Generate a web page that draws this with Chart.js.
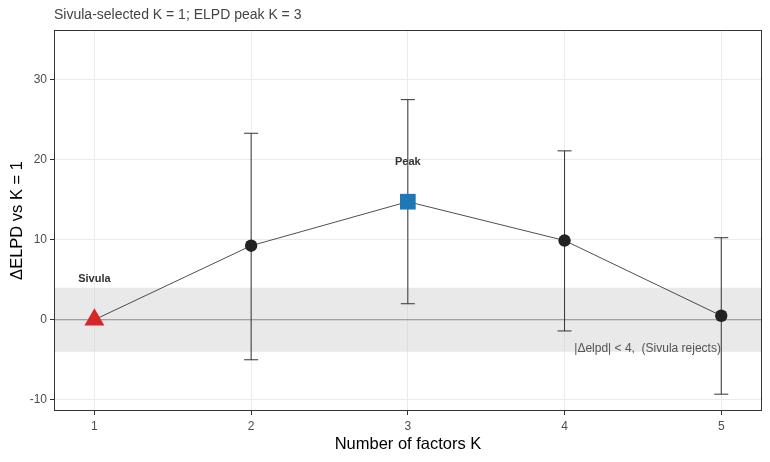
<!DOCTYPE html>
<html>
<head>
<meta charset="utf-8">
<script src="https://cdn.jsdelivr.net/npm/chart.js@4"></script>
<style>
  html, body { margin: 0; padding: 0; background: #fff; overflow: hidden; }
  #wrap { width: 770px; height: 462px; }
</style>
</head>
<body>
<div id="wrap"><canvas id="elpdChart"></canvas></div>
<script>
// values
const kValues = [1, 2, 3, 4, 5];
const elpdDiff = [0, 9.25, 14.75, 9.9, 0.5];
const lowerCI = [0, -5.0, 2.0, -1.4, -9.3];
const upperCI = [0, 23.3, 27.5, 21.1, 10.25];
const xTicks = [1, 2, 3, 4, 5];
const yTicks = [-10, 0, 10, 20, 30];
const bandLimits = [-4, 4];

const FONT = "'Liberation Sans', Arial, sans-serif";

// band, zero line, error bars, labels, panel border
const extras = {
    id: "extras",
    beforeDatasetsDraw(chart) {
        const { ctx, chartArea: a, scales: { x, y } } = chart;
        ctx.save();
        ctx.fillStyle = "rgba(200,200,200,0.4)";
        const yt = y.getPixelForValue(bandLimits[1]);
        const yb = y.getPixelForValue(bandLimits[0]);
        ctx.fillRect(a.left, yt, a.right - a.left, yb - yt);

        ctx.strokeStyle = "#8c8c8c";
        ctx.lineWidth = 1;
        ctx.beginPath();
        ctx.moveTo(a.left, y.getPixelForValue(0));
        ctx.lineTo(a.right, y.getPixelForValue(0));
        ctx.stroke();

        ctx.strokeStyle = "#333";
        for (let i = 0; i < kValues.length; i++) {
            if (lowerCI[i] === upperCI[i]) continue;
            const px = x.getPixelForValue(kValues[i]);
            const p1 = y.getPixelForValue(lowerCI[i]);
            const p2 = y.getPixelForValue(upperCI[i]);
            ctx.beginPath();
            ctx.moveTo(px, p1); ctx.lineTo(px, p2);
            ctx.moveTo(px - 7, p1); ctx.lineTo(px + 7, p1);
            ctx.moveTo(px - 7, p2); ctx.lineTo(px + 7, p2);
            ctx.stroke();
        }
        ctx.restore();
    },
    afterDatasetsDraw(chart) {
        const { ctx, chartArea: a, scales: { x, y } } = chart;
        ctx.save();
        ctx.textAlign = "center";
        ctx.textBaseline = "middle";
        ctx.fillStyle = "#333";
        ctx.font = "bold 11px " + FONT;
        ctx.fillText("Sivula", x.getPixelForValue(1), y.getPixelForValue(5.1));
        ctx.fillText("Peak", x.getPixelForValue(3), y.getPixelForValue(19.7));

        ctx.fillStyle = "#555";
        ctx.font = "12px " + FONT;
        ctx.fillText("|\u0394elpd| < 4,  (Sivula rejects)", x.getPixelForValue(4.53), y.getPixelForValue(-3.6));

        ctx.strokeStyle = "#333";
        ctx.lineWidth = 1;
        ctx.strokeRect(a.left + 0.5, a.top + 0.5, a.right - a.left - 1, a.bottom - a.top - 1);

        ctx.textAlign = "left";
        ctx.fillStyle = "#444";
        ctx.font = "14px " + FONT;
        ctx.fillText("Sivula-selected K = 1; ELPD peak K = 3", a.left, 15);
        ctx.restore();
    }
};

new Chart(document.getElementById("elpdChart"), {
    type: "line",
    data: {
        datasets: [{
            data: kValues.map((k, i) => ({ x: k, y: elpdDiff[i] })),
            borderColor: "#222",
            borderWidth: 0.8,
            pointStyle: ["triangle", "circle", "rect", "circle", "circle"],
            pointRadius: [11.5, 6.2, 11.1, 6.2, 6.2],
            pointBackgroundColor: ["#d62728", "#222", "#1f77b4", "#222", "#222"],
            pointBorderWidth: 0,
            pointHoverRadius: 0
        }]
    },
    options: {
        responsive: true,
        maintainAspectRatio: false,
        animation: false,
        layout: { autoPadding: false, padding: { left: 0, top: 30, right: 8, bottom: 0 } },
        plugins: {
            legend: { display: false },
            tooltip: { enabled: false }
        },
        scales: {
            x: {
                type: "linear",
                min: 0.742,
                max: 5.26,
                afterBuildTicks: s => { s.ticks = xTicks.map(v => ({ value: v })); },
                afterFit: s => { s.height = 51; s.paddingLeft = 0; s.paddingRight = 0; },
                grid: { color: "#ebebeb", tickColor: "#333", tickLength: 4 },
                border: { display: false },
                ticks: { color: "#4d4d4d", font: { family: FONT, size: 12 }, padding: 4, maxRotation: 0 },
                title: { display: true, text: "Number of factors K", color: "#000", font: { family: FONT, size: 16.5 }, padding: 8 }
            },
            y: {
                min: -11.4,
                max: 36.2,
                afterBuildTicks: s => { s.ticks = yTicks.map(v => ({ value: v })); },
                afterFit: s => { s.width = 54; s.paddingTop = 0; s.paddingBottom = 0; },
                grid: { color: "#ebebeb", tickColor: "#333", tickLength: 4 },
                border: { display: false },
                ticks: { color: "#4d4d4d", font: { family: FONT, size: 12 }, padding: 3 },
                title: { display: true, text: "\u0394ELPD vs K = 1", color: "#000", font: { family: FONT, size: 16.5 }, padding: 8 }
            }
        }
    },
    plugins: [extras]
});
</script>
</body>
</html>
